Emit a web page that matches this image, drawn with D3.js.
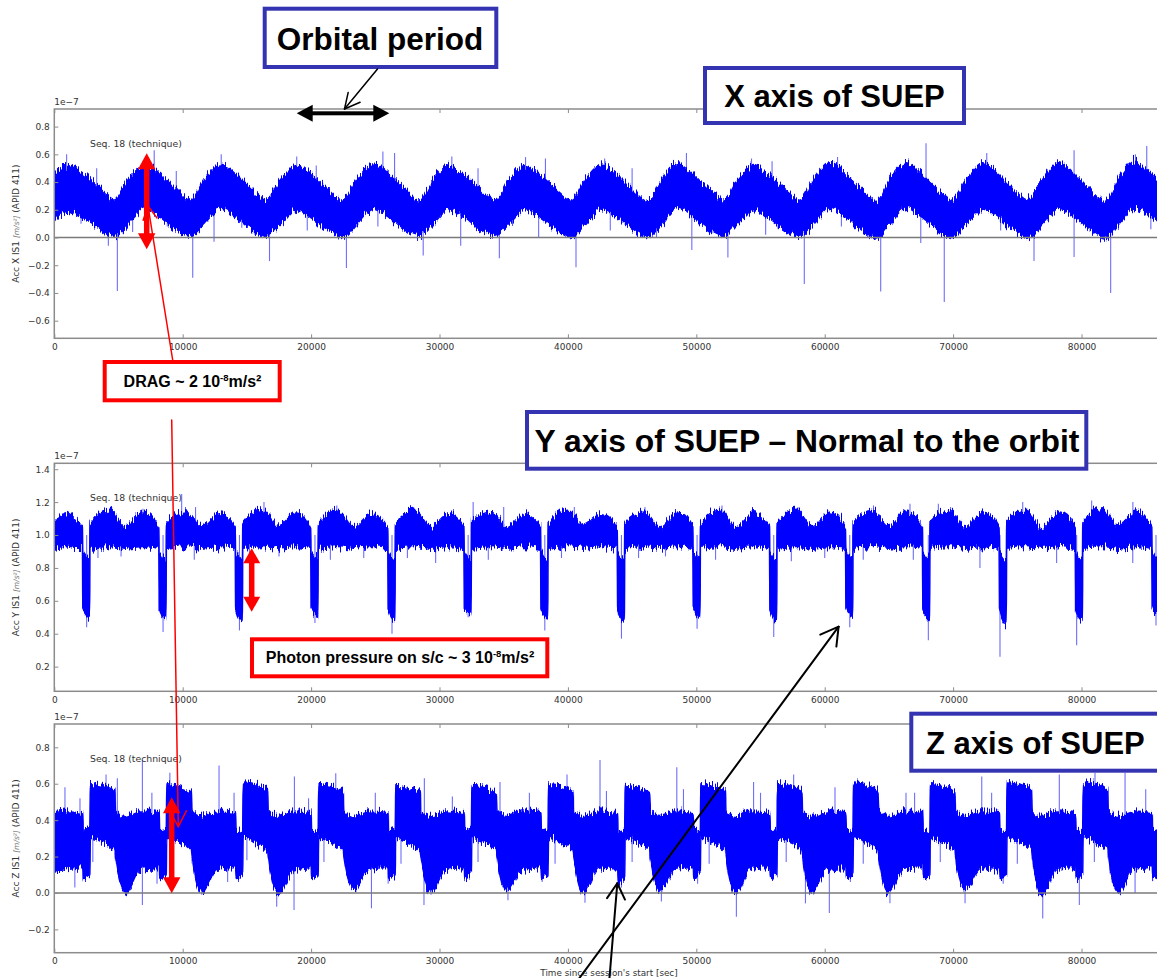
<!DOCTYPE html>
<html><head><meta charset="utf-8">
<script src="https://cdn.jsdelivr.net/npm/d3@7"></script>
<style>body{margin:0;background:#fff}svg{display:block}</style>
</head><body>
<svg id="c" width="1157" height="978"></svg>
<script>
// ---------------- DATA (units of 1e-7 m/s^2, time in s) ----------------
const xTicks = [0,10000,20000,30000,40000,50000,60000,70000,80000];
const yTicksX = [-0.6,-0.4,-0.2,0,0.2,0.4,0.6,0.8];
const yTicksY = [0.2,0.4,0.6,0.8,1.0,1.2,1.4];
const yTicksZ = [-0.2,0,0.2,0.4,0.6,0.8];

// envelope of the noisy X signal: [time, low, high]
const xBand = [
[0,.12,.47],[1000,.19,.52],[2300,.14,.46],[3500,.07,.36],[4670,.01,.27],
[5770,.10,.42],[6970,.20,.52],[8170,.15,.46],[9370,.06,.36],[10600,.01,.27],
[11700,.10,.42],[12900,.21,.53],[14100,.15,.46],[15300,.06,.35],[16540,.01,.27],
[17640,.10,.42],[18840,.20,.52],[20040,.14,.45],[21240,.06,.35],[22480,.00,.27],
[23580,.10,.42],[24780,.21,.53],[25980,.15,.46],[27180,.06,.36],[28410,.01,.27],
[29510,.10,.42],[30710,.20,.52],[31910,.15,.46],[33110,.06,.35],[34350,.01,.27],
[35450,.10,.42],[36650,.20,.52],[37850,.14,.45],[39050,.06,.35],[40280,.00,.27],
[41380,.10,.42],[42580,.20,.53],[43780,.15,.46],[44980,.06,.35],[46220,.00,.26],
[47320,.10,.42],[48520,.21,.54],[49720,.15,.46],[50920,.06,.35],[52150,.01,.27],
[53250,.10,.42],[54450,.20,.52],[55650,.14,.45],[56850,.06,.35],[58090,.01,.27],
[59190,.10,.43],[60390,.21,.54],[61590,.15,.46],[62790,.06,.35],[64020,-.01,.26],
[65120,.10,.43],[66320,.21,.54],[67520,.15,.46],[68720,.06,.35],[69960,.00,.27],
[71060,.10,.42],[72260,.21,.54],[73460,.15,.46],[74660,.06,.35],[75890,.00,.27],
[76990,.10,.42],[78190,.21,.54],[79390,.15,.46],[80590,.06,.35],[81830,-.01,.26],
[82930,.10,.43],[84130,.21,.55],[85330,.16,.47],[86400,.08,.39]];
// isolated spikes of the X signal: [time, value]
const xSpikes = [
[4910,-.385],[10780,-.29],[16760,-.17],[4210,-.06],[12440,-.03],[15570,.03],[22750,-.22],
[28730,-.13],[31650,-.06],[34660,-.15],[37720,.0],[40630,-.215],[49650,-.09],[52460,-.145],
[58410,-.335],[64360,-.39],[67480,-.04],[69310,-.465],[76300,-.17],[79420,-.14],[82270,-.40],
[2080,.10],[6100,.04],[8800,.08],[19700,.05],[25200,.08],[43300,.05],[46900,.0],[55400,.02],
[61300,.08],[73700,.05],[85400,.06],[14600,.07],[27600,.06],[39600,.04],[51300,.03],[63400,.02],[75300,.03],
[960,.60],[7780,.63],[13000,.60],[18880,.585],[25590,.62],[26500,.61],[30960,.585],[38250,.57],
[42860,.57],[49230,.61],[67890,.68],[72620,.61],[79420,.63],[85080,.66],[3300,.50],[9500,.48],
[20400,.52],[33000,.50],[45000,.50],[55900,.55],[61000,.58],[84200,.60],[36700,.58],[54300,.57]];

// envelope of the Y signal (eclipse dips): [time, low, high]
const yBand = [
[0,.92,1.08],[800,.93,1.13],[1600,.92,1.09],
[2190,.92,1.05],[2220,.55,.90],[2750,.50,.86],[2780,.92,1.07],[4320,.93,1.15],[5520,.92,1.05],[6920,.93,1.14],
[8140,.92,1.05],[8170,.55,.90],[8700,.49,.85],[8730,.92,1.07],[10270,.93,1.14],[11470,.92,1.05],[12870,.93,1.13],
[14090,.92,1.05],[14120,.55,.90],[14650,.48,.85],[14680,.92,1.08],[16220,.93,1.16],[17420,.92,1.06],[18820,.93,1.14],
[19970,.92,1.04],[20000,.56,.90],[20530,.50,.86],[20560,.92,1.07],[22100,.93,1.15],[23300,.92,1.05],[24700,.93,1.13],
[25970,.92,1.05],[26000,.55,.90],[26530,.48,.85],[26560,.92,1.07],[28100,.93,1.15],[29300,.92,1.05],[30700,.93,1.13],
[31900,.92,1.05],[31930,.56,.90],[32460,.52,.86],[32490,.92,1.08],[34030,.93,1.14],[35230,.92,1.05],[36630,.93,1.13],
[37870,.92,1.05],[37900,.55,.90],[38430,.49,.85],[38460,.92,1.07],[40000,.93,1.15],[41200,.92,1.06],[42600,.93,1.13],
[43840,.92,1.05],[43870,.55,.89],[44400,.47,.85],[44430,.92,1.07],[45970,.93,1.14],[47170,.92,1.05],[48570,.93,1.14],
[49730,.92,1.05],[49760,.55,.90],[50290,.50,.86],[50320,.92,1.07],[51860,.93,1.15],[53060,.92,1.05],[54460,.93,1.13],
[55700,.92,1.05],[55730,.55,.90],[56260,.48,.85],[56290,.92,1.07],[57830,.93,1.15],[59030,.92,1.05],[60430,.93,1.14],
[61620,.92,1.05],[61650,.56,.90],[62180,.50,.86],[62210,.92,1.08],[63750,.93,1.15],[64950,.92,1.05],[66350,.93,1.14],
[67610,.92,1.05],[67640,.55,.90],[68170,.48,.85],[68200,.92,1.08],[69740,.93,1.15],[70940,.92,1.05],[72340,.93,1.14],
[73580,.92,1.05],[73610,.55,.90],[74140,.46,.85],[74170,.92,1.08],[75710,.93,1.15],[76910,.92,1.05],[78310,.93,1.14],
[79510,.92,1.05],[79540,.55,.90],[80070,.48,.85],[80100,.92,1.08],[81640,.93,1.16],[82840,.92,1.06],[84240,.93,1.14],
[85470,.92,1.05],[85500,.56,.90],[86030,.50,.86],[86060,.92,1.07],[86400,.92,1.08]];
const ySpikes = [
[9920,1.25],[16330,1.20],[6910,1.16],[32620,1.20],[27980,1.17],[80790,1.21],[75420,1.20],[66640,1.19],
[68850,1.19],[800,1.14],[4400,1.17],[11000,1.17],[22000,1.18],[35000,1.17],[40500,1.17],[46000,1.17],
[52000,1.18],[58000,1.17],[63800,1.18],[69800,1.17],[84000,1.20],[86000,1.18],
[63000,.85],[72090,.80],[78060,.83],[83990,.83],[66900,.85],[3400,.86],[5200,.87],[10900,.85],[15200,.86],
[17500,.87],[21500,.85],[24100,.86],[27500,.86],[29700,.83],[33800,.85],[39500,.86],[45500,.86],[47600,.87],
[51500,.85],[57400,.84],[60000,.86],
[2520,.44],[8470,.41],[14420,.42],[20300,.465],[26300,.40],[32230,.50],[38200,.42],[44170,.37],[50060,.43],
[56030,.38],[61950,.44],[68070,.36],[73650,.26],[79620,.33],[85800,.45]];

// envelope of the Z signal: [time, low, high]
const zBand = [
[0,.12,.44],[1200,.13,.45],
[2220,.14,.44],[2260,.08,.35],[2770,.10,.36],[2810,.30,.60],[3720,.28,.59],[4720,.23,.56],[4770,.20,.45],[5520,.00,.42],[6720,.13,.45],
[8170,.14,.44],[8210,.08,.34],[8720,.10,.35],[8760,.30,.60],[9670,.28,.59],[10670,.23,.56],[10720,.20,.45],[11470,.00,.42],[12670,.13,.45],
[14120,.14,.44],[14160,.08,.34],[14670,.10,.35],[14710,.31,.61],[15620,.28,.60],[16620,.23,.56],[16670,.20,.45],[17420,-.01,.42],[18620,.12,.45],
[20000,.14,.44],[20040,.08,.34],[20550,.10,.35],[20590,.30,.60],[21500,.28,.59],[22500,.23,.56],[22550,.20,.45],[23300,.02,.42],[24500,.13,.45],
[26000,.14,.44],[26040,.08,.34],[26550,.10,.35],[26590,.30,.59],[27500,.28,.58],[28500,.23,.55],[28550,.20,.45],[29300,.00,.42],[30500,.13,.45],
[31930,.14,.44],[31970,.08,.34],[32480,.10,.35],[32520,.30,.59],[33430,.28,.58],[34430,.23,.55],[34480,.20,.45],[35230,.01,.42],[36430,.13,.45],
[37900,.14,.44],[37940,.08,.34],[38450,.10,.35],[38490,.30,.60],[39400,.28,.59],[40400,.23,.56],[40450,.20,.45],[41200,.00,.42],[42400,.13,.45],
[43870,.14,.44],[43910,.06,.34],[44420,.08,.35],[44460,.30,.59],[45370,.28,.58],[46370,.23,.55],[46420,.20,.45],[47170,.01,.42],[48370,.13,.45],
[49760,.14,.44],[49800,.08,.34],[50310,.10,.35],[50350,.30,.60],[51260,.28,.59],[52260,.23,.56],[52310,.20,.45],[53060,.00,.42],[54260,.13,.45],
[55730,.14,.44],[55770,.08,.34],[56280,.10,.35],[56320,.30,.60],[57230,.28,.59],[58230,.23,.56],[58280,.20,.45],[59030,.01,.42],[60230,.13,.45],
[61650,.14,.44],[61690,.08,.34],[62200,.10,.35],[62240,.31,.61],[63150,.28,.60],[64150,.23,.56],[64200,.20,.45],[64950,.00,.42],[66150,.13,.45],
[67640,.14,.44],[67680,.08,.34],[68190,.10,.35],[68230,.30,.60],[69140,.28,.59],[70140,.23,.55],[70190,.20,.45],[70940,.02,.42],[72140,.13,.45],
[73610,.14,.44],[73650,.08,.34],[74160,.10,.35],[74200,.31,.61],[75110,.28,.60],[76110,.23,.56],[76160,.20,.45],[76910,-.01,.42],[78110,.13,.45],
[79540,.14,.44],[79580,.08,.34],[80090,.10,.35],[80130,.31,.61],[81040,.28,.60],[82040,.23,.56],[82090,.20,.45],[82840,.00,.42],[84040,.13,.45],
[85500,.14,.44],[85540,.08,.34],[86050,.10,.35],[86090,.30,.60],[86400,.30,.60]];
const zSpikes = [
[830,.58],[4030,.65],[4910,.63],[6860,.73],[12830,.70],[18700,.64],[21920,.657],[28820,.63],[34710,.61],
[39930,.65],[42500,.73],[48480,.69],[54460,.61],[57580,.65],[66330,.55],[72230,.64],[78270,.65],[81050,.66],
[83390,.66],[2000,.52],[7600,.55],[9000,.66],[14000,.55],[19800,.52],[25000,.55],[31000,.53],[37000,.55],
[43000,.56],[49000,.57],[55000,.55],[60800,.58],[67000,.55],[73000,.55],[85000,.57],
[6860,-.066],[18670,-.093],[17320,-.075],[24700,-.084],[28790,-.066],[29340,-.01],[35330,-.04],[41330,-.053],
[47280,-.047],[53120,-.13],[58500,-.057],[60360,-.11],[65080,-.057],[70930,-.057],[76980,-.14],[79830,-.066],
[84170,.0],[5640,-.01],[11480,-.01],[1600,.03],[8000,.05],[13500,.06],[26000,.05],[38000,.06],[44170,.03],
[50100,.05],[62000,.06],[73900,.05],[3000,.17],[9100,.16],[15000,.18],[21000,.17],[27000,.16],[33000,.17],
[39000,.16],[45000,.17],[51000,.16],[57000,.17],[63000,.16],[69000,.17],[75000,.16],[81000,.17]];

// ---------------- LAYOUT ----------------
const svg = d3.select("#c");
const X0 = 54.3, X1 = 1163.7;
const x = d3.scaleLinear().domain([0,86400]).range([X0,X1]);
const SMALL = "DejaVu Sans, sans-serif";
const BIG = "Liberation Sans, Arial, sans-serif";
const BLUE = "#0000ff";

const panels = [
  {band:xBand, spikes:xSpikes, ref:0.25, top:109, bottom:338.3, dom:[-0.727,0.927], ticks:yTicksX, axis:"X", zero:true, curve:d3.curveCatmullRom},
  {band:yBand, spikes:ySpikes, ref:1.0, top:463.3, bottom:691.3, dom:[0.05,1.436], ticks:yTicksY, axis:"Y", zero:false, curve:d3.curveMonotoneX},
  {band:zBand, spikes:zSpikes, ref:0.3, top:724, bottom:952.7, dom:[-0.328,0.928], ticks:yTicksZ, axis:"Z", zero:true, curve:d3.curveMonotoneX}
];

const defs = svg.append("defs");
// texture filter: roughens the band outline so it reads like a dense noisy trace
const f = defs.append("filter").attr("id","rough").attr("filterUnits","userSpaceOnUse")
  .attr("x",0).attr("y",0).attr("width",1157).attr("height",978);
f.append("feTurbulence").attr("type","fractalNoise").attr("baseFrequency","0.75 0.05")
  .attr("numOctaves",2).attr("seed",7).attr("result","t");
const ct = f.append("feComponentTransfer").attr("in","t").attr("result","t2");
ct.append("feFuncR").attr("type","linear").attr("slope",0).attr("intercept",0.5);
f.append("feDisplacementMap").attr("in","SourceGraphic").attr("in2","t2").attr("scale",16)
  .attr("xChannelSelector","R").attr("yChannelSelector","G");

panels.forEach((p,i)=>{
  const y = d3.scaleLinear().domain(p.dom).range([p.bottom,p.top]);
  defs.append("clipPath").attr("id","clip"+i).append("rect")
    .attr("x",X0).attr("y",p.top).attr("width",X1-X0).attr("height",p.bottom-p.top);
  const g = svg.append("g");
  const pg = g.append("g").attr("clip-path",`url(#clip${i})`);
  pg.selectAll("line.sp").data(p.spikes).join("line").attr("class","sp")
    .attr("x1",d=>x(d[0])).attr("x2",d=>x(d[0]))
    .attr("y1",y(p.ref)).attr("y2",d=>y(d[1]))
    .attr("stroke","#3030ff").attr("stroke-width",1.1).attr("opacity",0.7);
  const area = d3.area().x(d=>x(d[0])).y0(d=>y(d[1])).y1(d=>y(d[2])).curve(p.curve);
  pg.append("g").attr("filter","url(#rough)").append("path").datum(p.band).attr("d",area)
    .attr("fill",BLUE).attr("stroke",BLUE).attr("stroke-width",1.5).attr("stroke-linejoin","round");
  if(p.zero){
    g.append("line").attr("x1",X0).attr("x2",X1).attr("y1",y(0)).attr("y2",y(0))
      .attr("stroke","#7a7a7a").attr("stroke-width",1.5);
  }
  g.append("rect").attr("x",X0).attr("y",p.top).attr("width",X1-X0).attr("height",p.bottom-p.top)
    .attr("fill","none").attr("stroke","#8c8c8c").attr("stroke-width",1.5);
  const styleAxis = a => {
    a.select(".domain").remove();
    a.selectAll("line").attr("stroke","#8c8c8c").attr("stroke-width",1);
    a.selectAll("text").attr("font-family",SMALL).attr("font-size",9).attr("fill","#333");
  };
  g.append("g").attr("transform",`translate(${X0},0)`)
    .call(d3.axisLeft(y).tickValues(p.ticks).tickSize(-4).tickPadding(4.5).tickFormat(d3.format(".1f")))
    .call(styleAxis);
  g.append("g").attr("transform",`translate(0,${p.bottom})`)
    .call(d3.axisBottom(x).tickValues(xTicks).tickSize(-4).tickPadding(5).tickFormat(d3.format("d")))
    .call(styleAxis);
  g.append("g").attr("transform",`translate(0,${p.top})`)
    .call(d3.axisTop(x).tickValues(xTicks).tickSize(-4).tickFormat(""))
    .call(styleAxis);
  g.append("text").attr("x",X0).attr("y",p.top-4).attr("font-family",SMALL).attr("font-size",9)
    .attr("fill","#333").text("1e\u22127");
  g.append("text").attr("x",90).attr("y",p.top+37.5).attr("font-family",SMALL).attr("font-size",9.3)
    .attr("fill","#333").text("Seq. 18 (technique)");
  const lab = g.append("text").attr("transform",`translate(19,${(p.top+p.bottom)/2}) rotate(-90)`)
    .attr("text-anchor","middle").attr("font-family",SMALL).attr("font-size",9).attr("fill","#333");
  lab.append("tspan").text(`Acc ${p.axis} IS1 `);
  lab.append("tspan").attr("font-size",7.5).attr("fill","#777").attr("font-style","italic").text("[m/s\u00b2]");
  lab.append("tspan").text(" (APID 411)");
});

svg.append("text").attr("x",609).attr("y",976).attr("text-anchor","middle")
  .attr("font-family",SMALL).attr("font-size",8.8).attr("fill","#333").text("Time since session's start [sec]");

// ---------------- ANNOTATIONS ----------------
const ann = svg.append("g");
function box(x0,y0,w,h,color){
  ann.append("rect").attr("x",x0).attr("y",y0).attr("width",w).attr("height",h)
    .attr("fill","#fff").attr("stroke",color).attr("stroke-width",4);
}
function bigText(tx,ty,anchor,str,size){
  ann.append("text").attr("x",tx).attr("y",ty).attr("text-anchor",anchor)
    .attr("font-family",BIG).attr("font-weight","bold").attr("font-size",size||31).attr("fill","#000").text(str);
}
function supText(tx,ty,a,b){
  const t = ann.append("text").attr("x",tx).attr("y",ty).attr("text-anchor","middle")
    .attr("font-family",BIG).attr("font-weight","bold").attr("font-size",16).attr("fill","#000");
  t.append("tspan").text(a);
  t.append("tspan").attr("font-size",9.5).attr("dy",-6).text("-8");
  t.append("tspan").attr("dy",6).text(b);
}
function openArrow(x1,y1,x2,y2,color,w,len,angDeg){
  ann.append("line").attr("x1",x1).attr("y1",y1).attr("x2",x2).attr("y2",y2)
    .attr("stroke",color).attr("stroke-width",w).attr("stroke-linecap","round");
  const a = Math.atan2(y1-y2,x1-x2), d = angDeg*Math.PI/180;
  [a-d,a+d].forEach(b=>{
    ann.append("line").attr("x1",x2).attr("y1",y2).attr("x2",x2+len*Math.cos(b)).attr("y2",y2+len*Math.sin(b))
      .attr("stroke",color).attr("stroke-width",w).attr("stroke-linecap","round");
  });
}
function dblArrowV(cx,ya,yb,shaft,hl,hw,color){
  ann.append("rect").attr("x",cx-shaft/2).attr("y",ya+hl-1).attr("width",shaft).attr("height",yb-ya-2*hl+2).attr("fill",color);
  ann.append("path").attr("d",`M${cx},${ya}L${cx-hw/2},${ya+hl}L${cx+hw/2},${ya+hl}Z`).attr("fill",color);
  ann.append("path").attr("d",`M${cx},${yb}L${cx-hw/2},${yb-hl}L${cx+hw/2},${yb-hl}Z`).attr("fill",color);
}
function dblArrowH(cy,xa,xb,shaft,hl,hw,color){
  ann.append("rect").attr("x",xa+hl-1).attr("y",cy-shaft/2).attr("width",xb-xa-2*hl+2).attr("height",shaft).attr("fill",color);
  ann.append("path").attr("d",`M${xa},${cy}L${xa+hl},${cy-hw/2}L${xa+hl},${cy+hw/2}Z`).attr("fill",color);
  ann.append("path").attr("d",`M${xb},${cy}L${xb-hl},${cy-hw/2}L${xb-hl},${cy+hw/2}Z`).attr("fill",color);
}

const BOXBLUE = "#3434b2", RED = "#ff0000";
box(264.7,8.7,231.6,58.3,BOXBLUE); bigText(380,50,"middle","Orbital period",31.5);
box(705,68,259,55,BOXBLUE); bigText(834.5,107,"middle","X axis of SUEP");
box(527,412,559.3,56.7,BOXBLUE); bigText(807,452,"middle","Y axis of SUEP \u2013 Normal to the orbit",31.8);
box(911.3,713.7,300,57,BOXBLUE); bigText(926,754,"start","Z axis of SUEP");
box(104.7,362,175,38.3,RED); supText(192.5,387,"DRAG ~ 2 10","m/s\u00b2");
box(252,639.3,295.3,37,RED); supText(400,663,"Photon pressure on s/c ~ 3 10","m/s\u00b2");

openArrow(172.7,360,148,206,RED,1.5,15,28);
openArrow(171.7,420,178.3,826.7,RED,1.5,18,28);
dblArrowV(146.7,153.3,249.3,5.5,16,17.5,RED);
dblArrowV(251.7,548.3,611.7,5.5,15,17,RED);
dblArrowV(171.7,797.3,893.3,5.5,16,17.5,RED);
dblArrowH(113.3,296.7,389.3,4,16,17,"#000");
openArrow(377.5,69,344.5,109,"#000",1.5,17,27);
openArrow(578,980,838.6,626.7,"#000",2,20,30);
openArrow(609.3,980,617.3,883.3,"#000",2,18,30);
</script>
</body></html>
